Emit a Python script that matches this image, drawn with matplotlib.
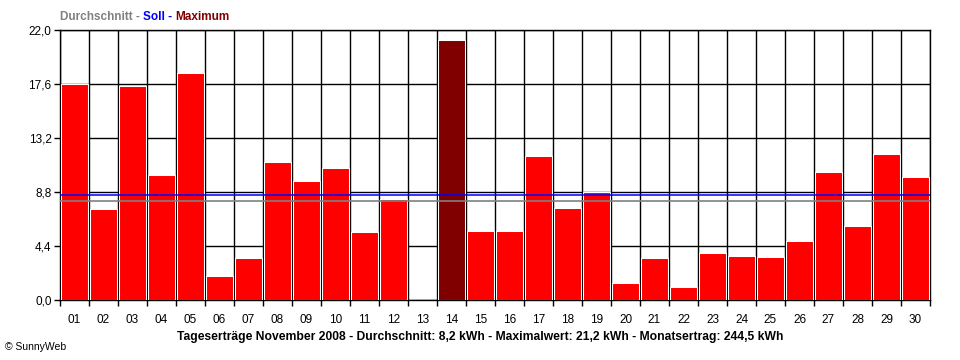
import matplotlib

matplotlib.use("Agg")

import matplotlib.pyplot as plt
import numpy as np

days = ["01", "02", "03", "04", "05", "06", "07", "08", "09", "10",
        "11", "12", "13", "14", "15", "16", "17", "18", "19", "20",
        "21", "22", "23", "24", "25", "26", "27", "28", "29", "30"]
yields = [17.6, 7.4, 17.4, 10.2, 18.5, 1.95, 3.4, 11.25, 9.7, 10.75,
          5.55, 8.2, 0.0, 21.2, 5.6, 5.6, 11.7, 7.5, 8.8, 1.4,
          3.4, 1.05, 3.8, 3.6, 3.5, 4.8, 10.4, 6.0, 11.9, 10.0]
average = 8.05
target = 8.53
y_ticks = [0.0, 4.4, 8.8, 13.2, 17.6, 22.0]

plt.rcParams["font.family"] = ["Liberation Sans", "DejaVu Sans"]

fig = plt.figure(figsize=(9.6, 3.6), dpi=100)
ax = fig.add_axes([60 / 960, 1 - 300 / 360, 870 / 960, 270 / 360])

x = np.arange(1, len(days) + 1)
max_idx = int(np.argmax(yields))
colors = ["#800000" if i == max_idx else "#ff0000" for i in range(len(days))]
ax.bar(x, yields, width=0.94, color=colors, edgecolor="white", linewidth=0.75, zorder=3)

ax.axhline(target, color="#0000ff", linewidth=1.1, zorder=5)
ax.axhline(average, color="#808080", linewidth=1.2, zorder=4)

ax.set_xlim(0.5, len(days) + 0.5)
ax.set_ylim(0, 22.0)

ax.set_yticks(y_ticks)
ax.set_yticklabels([f"{v:.1f}".replace(".", ",") for v in y_ticks], fontsize=8.5)
ax.set_xticks(np.arange(0.5, len(days) + 1.0, 1.0))
ax.set_xticklabels([])
ax.set_xticks(x, minor=True)
ax.set_xticklabels(days, minor=True, fontsize=8.5)
ax.tick_params(axis="x", which="major", length=4, width=1, color="black", direction="out")
ax.tick_params(axis="x", which="minor", length=0, pad=10)
ax.tick_params(axis="y", length=4, width=1, direction="out", pad=2)

ax.grid(which="major", color="black", linewidth=1.0, zorder=1)
ax.set_axisbelow(True)
for spine in ax.spines.values():
    spine.set_linewidth(1.0)

t1 = fig.text(60 / 960, 1 - 17 / 360, "Durchschnitt - ", color="#808080",
              fontsize=8.5, fontweight="bold", va="center", ha="left")
t2 = ax.annotate("Soll - ", xy=(1, 0), xycoords=t1, color="#0000ff",
                 fontsize=8.5, fontweight="bold", va="bottom", ha="left",
                 annotation_clip=False)
ax.annotate("Maximum", xy=(1, 0), xycoords=t2, color="#800000",
            fontsize=8.5, fontweight="bold", va="bottom", ha="left",
            annotation_clip=False)

fig.text(480 / 960, 1 - 337 / 360,
         "Tageserträge November 2008 - Durchschnitt: 8,2 kWh - Maximalwert: 21,2 kWh - Monatsertrag: 244,5 kWh",
         fontsize=8.7, fontweight="bold", ha="center", va="center")
fig.text(5 / 960, 1 - 347 / 360, "© SunnyWeb", fontsize=7.5, ha="left", va="center")

fig.savefig("out.png", dpi=100)
plt.close(fig)
